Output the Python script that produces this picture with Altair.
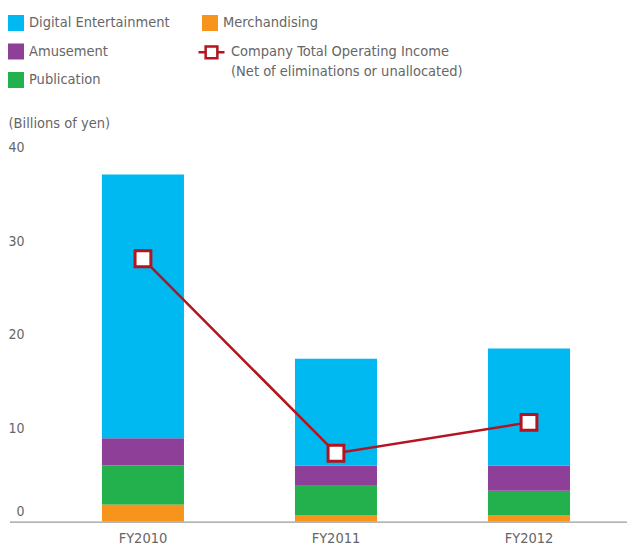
import altair as alt
import pandas as pd

years = ["FY2010", "FY2011", "FY2012"]
digital = [28.2, 11.4, 12.5]
amusement = [2.9, 2.1, 2.7]
publication = [4.2, 3.2, 2.6]
merchandising = [1.8, 0.7, 0.7]
total_income = [28.1, 7.3, 10.6]

segments = ["Merchandising", "Publication", "Amusement", "Digital Entertainment"]
series_vals = [merchandising, publication, amusement, digital]
line_label = "Company Total Operating Income|(Net of eliminations or unallocated)"

rows = []
for i, yr in enumerate(years):
    for k, (seg, vals) in enumerate(zip(segments, series_vals)):
        rows.append({"year": yr, "segment": seg, "order": k, "value": vals[i]})
bars_df = pd.DataFrame(rows)
line_df = pd.DataFrame({"year": years, "total": total_income, "series": [line_label] * 3})

W, H = 597, 374
FONT = "DejaVu Sans Condensed"
TXT = "#666666"
OX, OY = 30, 147.5
FS = 14.5

xscale = alt.Scale(domain=years, paddingInner=0.575, paddingOuter=0.334, align=0.558)
yscale = alt.Scale(domain=[0, 40], nice=False)

x_enc = alt.X("year:N", scale=xscale, sort=years,
              axis=alt.Axis(title=None, labelAngle=0, domain=False, ticks=False,
                            labelPadding=10, labelFontSize=FS, labelColor=TXT, labelFont=FONT))

y_axis = alt.Axis(values=[0, 10, 20, 30, 40], grid=False, domain=False, ticks=False,
                  labelPadding=6, labelFontSize=14, labelColor=TXT, labelFont=FONT,
                  labelOffset={"condition": {"test": "datum.value == 0", "value": -10}, "value": 0},
                  title="(Billions of yen)", titleAngle=0, titleAlign="left", titleBaseline="middle",
                  titleX=8 - OX, titleY=123 - OY, titleFontSize=FS, titleFontWeight="normal",
                  titleColor=TXT, titleFont=FONT)

base = alt.Chart(bars_df).transform_stack(
    stack="value", groupby=["year"], as_=["y0", "y1"],
    sort=[alt.SortField("order", order="ascending")]
)

legend_common = dict(orient="none", title=None, labelFont=FONT, labelFontSize=FS,
                     labelColor=TXT, labelOffset=5, padding=0, labelLimit=0)

bars_main = base.transform_filter("datum.segment != 'Merchandising'").mark_bar().encode(
    x=x_enc,
    y=alt.Y("y1:Q", scale=yscale, axis=y_axis),
    y2="y0:Q",
    color=alt.Color("segment:N",
                    scale=alt.Scale(domain=["Digital Entertainment", "Amusement", "Publication"],
                                    range=["#00B9F1", "#8E3F97", "#23B14D"]),
                    legend=alt.Legend(legendX=8 - OX, legendY=15 - OY, symbolType="square",
                                      symbolSize=256, symbolStrokeWidth=0, rowPadding=12.5,
                                      **legend_common)),
)

bars_merch = base.transform_filter("datum.segment == 'Merchandising'").transform_calculate(
    seg2="datum.segment"
).mark_bar().encode(
    x=x_enc,
    y=alt.Y("y1:Q", scale=yscale),
    y2="y0:Q",
    fill=alt.Fill("seg2:N", scale=alt.Scale(domain=["Merchandising"], range=["#F7941D"]),
                  legend=alt.Legend(legendX=202 - OX, legendY=15 - OY, symbolType="square",
                                    symbolSize=256, symbolStrokeWidth=0, **legend_common)),
)

stroke_enc = alt.Stroke("series:N", scale=alt.Scale(domain=[line_label], range=["#B3141F"]),
                        legend=alt.Legend(legendX=197 - OX, legendY=37.8 - OY,
                                          symbolType="M-1,0L-0.45,0M0.45,0L1,0M-0.45,-0.45L0.45,-0.45L0.45,0.45L-0.45,0.45Z",
                                          symbolSize=676, symbolStrokeWidth=2.5,
                                          symbolFillColor="white",
                                          labelExpr="split(datum.label, '|')",
                                          **legend_common))

line = alt.Chart(line_df).mark_line(strokeWidth=2.5).encode(
    x=x_enc, y=alt.Y("total:Q", scale=yscale), stroke=stroke_enc
)
points = alt.Chart(line_df).mark_point(shape="square", size=250, filled=True, fill="white",
                                       strokeWidth=3, opacity=1).encode(
    x=x_enc, y=alt.Y("total:Q", scale=yscale), stroke=stroke_enc
)

baseline = alt.Chart(pd.DataFrame({"a": [0]})).mark_rule(color="#9a9a9a", strokeWidth=1.2).encode(
    x=alt.value(10 - OX), x2=alt.value(W), y=alt.value(H + 0.6)
)

chart = alt.layer(baseline, bars_main, bars_merch, line, points).resolve_scale(
    color="independent"
).properties(
    width=W, height=H,
    autosize=alt.AutoSizeParams(type="none"),
    padding={"left": OX, "top": OY, "right": 0, "bottom": 547 - OY - H},
).configure(
    background="white",
    view=alt.ViewConfig(stroke=None),
    style={"guide-label": {"lineHeight": 20}},
)

chart.save("out.html", embed_options={"renderer": "svg", "actions": False})
